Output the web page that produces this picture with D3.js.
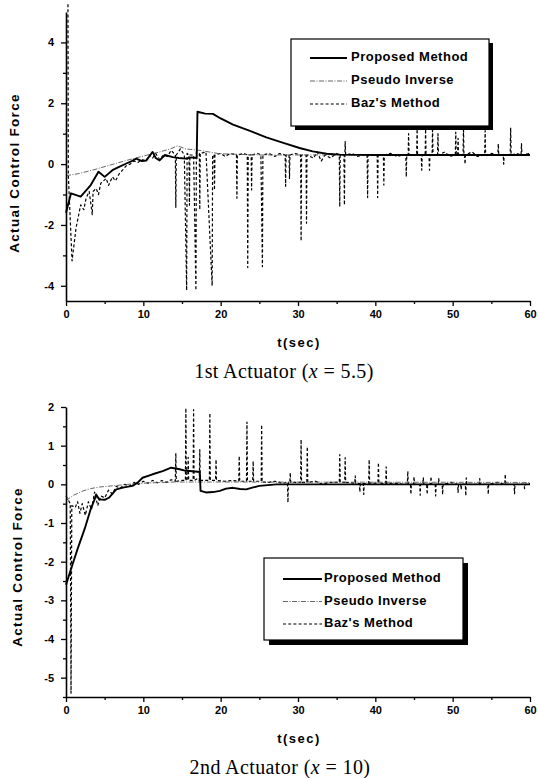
<!DOCTYPE html>
<html>
<head>
<meta charset="utf-8">
<script src="https://cdn.jsdelivr.net/npm/d3@7"></script>
<style>
    body { margin: 0; background: #fff; }
    svg { display: block; }
</style>
</head>
<body>
<svg id="chart" width="538" height="778"></svg>
<script>
// ---- data: [t, force] ----
const tMajor = [0, 10, 20, 30, 40, 50, 60]
const tMinor = [5, 15, 25, 35, 45, 55]
const legendNames = ['Proposed Method', 'Pseudo Inverse', "Baz's Method"]

// 1st actuator (x = 5.5)
const proposed1 = [[0, -1.6], [0.65, -0.96], [1.9, -1.07], [3.2, -0.69], [4.2, -0.25], [5.0, -0.42], [6.0, -0.2], [6.8, -0.1],
    [7.8, 0.02], [8.5, 0.1], [9.1, 0.18], [9.8, 0.1], [10.4, 0.12], [10.9, 0.3], [11.2, 0.4], [11.6, 0.2], [12.1, 0.12],
    [12.8, 0.3], [13.8, 0.23], [14.6, 0.2], [15.5, 0.18], [16.2, 0.22], [16.9, 0.2], [17.0, 1.72], [18.0, 1.66], [19.0, 1.65],
    [20.0, 1.5], [21.6, 1.3], [23.7, 1.1], [25.9, 0.88], [28.1, 0.7], [30.2, 0.53], [31.9, 0.42], [33.7, 0.34], [35.4, 0.31],
    [40, 0.3], [60, 0.3]]
const pseudo1 = [[0, -0.38], [1.7, -0.31], [3.4, -0.2], [5.6, -0.04], [7.8, 0.12], [10.4, 0.29], [12.1, 0.4], [13.5, 0.5],
    [14.4, 0.6], [15.5, 0.5], [17.3, 0.45], [19.9, 0.34], [25, 0.3], [60, 0.3]]
const baz1 = [[0.25, 5.6], [0.3, -0.36], [0.78, -3.18], [1.3, -2.1], [1.9, -1.34], [2.3, -1.5], [2.6, -1.12], [3.0, -0.9],
    [3.4, -1.66], [3.5, -0.9], [3.9, -0.8], [4.2, -1.0], [4.5, -0.63], [5.2, -0.47], [5.5, -0.7], [6.0, -0.42], [6.4, -0.55],
    [6.9, -0.31], [7.3, -0.2], [7.8, -0.05], [8.3, 0.0], [8.8, 0.1], [9.3, 0.05], [9.8, 0.15], [10.3, 0.1], [10.8, 0.3],
    [11.2, 0.2], [11.6, 0.35], [12.1, 0.15], [12.6, 0.3], [13.1, 0.25], [13.6, 0.45], [14.14, 0.3], [14.2, -1.42], [14.26, 0.3],
    [14.8, 0.5], [15.3, 0.3], [15.6, -4.15], [15.66, 0.35], [15.9, 0.3], [15.96, -1.35], [16.02, 0.3], [16.5, 0.3],
    [16.8, -4.15], [16.86, 0.4], [17.24, 0.35], [17.3, -1.5], [17.36, 0.35], [18.1, 0.4], [18.9, -4.0], [18.96, 0.3],
    [19.14, 0.3], [19.2, -0.85], [19.26, 0.3], [20.0, 0.35], [20.6, 0.25], [21.2, 0.35], [22.04, 0.3], [22.1, -1.12],
    [22.16, 0.3], [23.0, 0.35], [23.44, 0.3], [23.5, -3.4], [23.56, 0.3], [23.94, 0.3], [24.0, -0.85], [24.06, 0.3],
    [24.8, 0.35], [25.2, 0.3], [25.4, -3.37], [25.46, 0.3], [26.3, 0.35], [27.0, 0.25], [27.6, 0.35], [28.34, 0.3],
    [28.4, -0.73], [28.46, 0.3], [28.84, 0.3], [28.9, -0.47], [28.96, 0.3], [29.6, 0.35], [30.34, 0.3], [30.4, -2.53],
    [30.46, 0.3], [31.04, 0.3], [31.1, -1.94], [31.16, 0.3], [32.0, 0.2], [32.5, 0.4], [33.0, 0.1], [33.5, 0.3], [34.2, 0.2],
    [35.0, 0.35], [35.34, 0.3], [35.4, -1.4], [35.46, 0.3], [35.94, 0.3], [36.0, -1.34], [36.06, 0.3], [36.1, 0.74],
    [36.16, 0.3], [37.0, 0.35], [37.7, 0.25], [38.3, 0.3], [38.94, 0.3], [39.0, -1.1], [39.06, 0.3], [40.24, 0.3],
    [40.3, -1.1], [40.36, 0.3], [41.04, 0.3], [41.1, -0.69], [41.16, 0.3], [42.0, 0.35], [42.8, 0.25], [43.5, 0.3],
    [43.94, 0.3], [44.0, -0.42], [44.06, 0.3], [44.24, 0.3], [44.3, 1.0], [44.36, 0.3], [45.34, 0.3], [45.4, 1.15],
    [45.46, 0.3], [45.94, 0.3], [46.0, -0.2], [46.06, 0.3], [46.44, 0.3], [46.5, 1.15], [46.56, 0.3], [46.94, 0.3],
    [47.0, -0.2], [47.06, 0.3], [47.34, 0.3], [47.4, 1.2], [47.46, 0.3], [48.04, 0.3], [48.1, 1.0], [48.16, 0.3], [49.0, 0.4],
    [49.6, 0.25], [50.34, 0.3], [50.4, 1.05], [50.46, 0.3], [50.64, 0.3], [50.7, 0.85], [50.76, 0.3], [51.34, 0.3],
    [51.4, 1.2], [51.46, 0.3], [51.54, 0.3], [51.6, 0.0], [51.66, 0.3], [52.5, 0.4], [53.2, 0.25], [54.14, 0.3], [54.2, 1.1],
    [54.26, 0.3], [55.0, 0.35], [55.84, 0.3], [55.9, 0.67], [55.96, 0.3], [56.54, 0.3], [56.6, 0.0], [56.66, 0.3],
    [57.44, 0.3], [57.5, 1.2], [57.56, 0.3], [58.3, 0.35], [58.84, 0.3], [58.9, 0.67], [58.96, 0.3], [60, 0.35]]

// 2nd actuator (x = 10)
const proposed2 = [[0, -2.6], [0.65, -2.19], [1.5, -1.67], [2.4, -1.16], [3.2, -0.64], [3.7, -0.39], [3.9, -0.26], [4.3, -0.39],
    [5.0, -0.4], [5.6, -0.34], [6.5, -0.13], [7.5, -0.08], [8.6, -0.04], [9.3, 0.05], [9.9, 0.17], [11.2, 0.26], [12.5, 0.34],
    [13.6, 0.43], [14.7, 0.39], [15.5, 0.35], [16.4, 0.34], [17.3, 0.32], [17.4, -0.17], [18.1, -0.21], [19.0, -0.2],
    [19.9, -0.17], [20.7, -0.11], [21.6, -0.09], [22.5, -0.12], [23.3, -0.13], [24.2, -0.08], [25.0, -0.04], [27.2, 0.0], [60, 0.0]]
const pseudo2 = [[0, -0.42], [1, -0.28], [2.2, -0.17], [3.2, -0.11], [4.3, -0.07], [6.5, -0.03], [8, 0.0], [10, 0.03],
    [14, 0.06], [20, 0.06], [60, 0.05]]
const baz2 = [[0.0, -0.3], [0.55, -0.5], [0.65, -5.4], [0.75, -0.55], [1.2, -0.6], [1.5, -0.45], [1.8, -0.75], [2.1, -0.5],
    [2.5, -0.8], [2.9, -0.45], [3.3, -0.65], [3.7, -0.2], [4.1, -0.55], [4.5, -0.3], [5.0, -0.35], [5.5, -0.15], [6.0, -0.25],
    [6.5, -0.05], [7.0, -0.1], [7.6, 0.0], [8.2, -0.05], [8.8, 0.05], [9.4, 0.0], [10.0, 0.08], [10.6, 0.03], [11.2, 0.1],
    [11.8, 0.04], [12.4, 0.1], [13.0, 0.05], [13.6, 0.12], [14.14, 0.08], [14.2, 0.81], [14.26, 0.08], [15.0, 0.1],
    [15.44, 0.1], [15.5, 1.97], [15.56, 0.1], [15.74, 0.1], [15.8, 0.7], [15.86, 0.1], [16.44, 0.1], [16.5, 1.93],
    [16.56, 0.1], [17.0, 0.15], [17.24, 0.1], [17.3, 0.9], [17.36, 0.1], [18.0, 0.1], [18.54, 0.1], [18.6, 1.84], [18.66, 0.1],
    [19.34, 0.1], [19.4, 0.64], [19.46, 0.1], [20.5, 0.08], [21.5, 0.1], [22.34, 0.08], [22.4, 0.73], [22.46, 0.08],
    [23.34, 0.08], [23.4, 1.61], [23.46, 0.08], [24.14, 0.08], [24.2, 0.6], [24.26, 0.08], [25.24, 0.08], [25.3, 1.54],
    [25.36, 0.06], [26.2, 0.05], [27.0, 0.08], [28.0, 0.03], [28.64, 0.05], [28.7, -0.47], [28.76, 0.05], [28.94, 0.05],
    [29.0, 0.3], [29.06, 0.05], [30.34, 0.05], [30.4, 1.16], [30.46, 0.05], [31.14, 0.05], [31.2, 0.97], [31.26, 0.05],
    [32.3, 0.08], [33.2, 0.0], [34.0, 0.05], [35.34, 0.05], [35.4, 0.77], [35.46, 0.05], [36.04, 0.05], [36.1, 0.69],
    [36.16, 0.05], [37.34, 0.03], [37.4, 0.22], [37.46, 0.03], [37.94, 0.02], [38.0, -0.2], [38.06, 0.02], [38.44, 0.02],
    [38.5, -0.26], [38.56, 0.02], [39.14, 0.03], [39.2, 0.64], [39.26, 0.03], [40.34, 0.03], [40.4, 0.56], [40.46, 0.03],
    [41.34, 0.02], [41.4, 0.45], [41.46, 0.02], [42.5, 0.03], [43.5, 0.0], [44.14, 0.0], [44.2, 0.34], [44.26, 0.0],
    [44.54, 0.0], [44.6, -0.26], [44.66, 0.0], [44.94, 0.0], [45.0, 0.2], [45.06, 0.0], [45.74, 0.0], [45.8, -0.28],
    [45.86, 0.0], [46.14, 0.0], [46.2, 0.17], [46.26, 0.0], [46.64, 0.0], [46.7, -0.26], [46.76, 0.0], [47.14, 0.0],
    [47.2, 0.2], [47.26, 0.0], [47.74, 0.0], [47.8, -0.3], [47.86, 0.0], [48.14, 0.0], [48.2, 0.15], [48.26, 0.0],
    [48.64, 0.0], [48.7, -0.26], [48.76, 0.0], [49.8, 0.05], [50.64, 0.0], [50.7, -0.21], [50.76, 0.0], [51.04, 0.0],
    [51.1, -0.13], [51.16, 0.0], [51.64, 0.0], [51.7, -0.3], [51.76, 0.17], [51.82, 0.0], [53.44, 0.0], [53.5, 0.15],
    [53.56, 0.0], [54.54, 0.0], [54.6, -0.26], [54.66, 0.0], [55.8, 0.05], [56.74, 0.0], [56.8, 0.26], [56.86, 0.0],
    [57.94, 0.0], [58.0, -0.24], [58.06, 0.0], [59.24, 0.0], [59.3, -0.11], [59.36, 0.0], [60, 0.02]]

const yMajor1 = [-4, -2, 0, 2, 4]
const yMinor1 = [-3, -1, 1, 3]
const yMajor2 = [-5, -4, -3, -2, -1, 0, 1, 2]
const yMinor2 = [-5.5, -4.5, -3.5, -2.5, -1.5, -0.5, 0.5, 1.5]

const styles = [
    { width: 1.9, dash: null, color: '#000' },
    { width: 0.9, dash: '5,1.5,1,1.5', color: '#555' },
    { width: 1.2, dash: '3,2.2', color: '#000' }
]

const svg = d3.select('#chart')
const sans = '"Liberation Sans", Arial, sans-serif'
const serif = '"Liberation Serif", "Times New Roman", serif'

function drawPanel(p, idx) {
    let x = d3.scaleLinear().domain([0, 60]).range([66, 530])
    let y = d3.scaleLinear().domain(p.yDomain).range(p.yRange)
    let bottom = p.yRange[0]

    let clipId = 'clip' + idx
    svg.append('clipPath').attr('id', clipId)
        .append('rect')
        .attr('x', 60).attr('y', p.clipTop)
        .attr('width', 478).attr('height', bottom - p.clipTop + 4)

    let line = d3.line().x(d => x(d[0])).y(d => y(d[1]))
    let plot = svg.append('g').attr('clip-path', `url(#${clipId})`)

    // draw Baz first, then pseudo, then proposed on top
    let order = [2, 1, 0]
    order.forEach(i => {
        plot.append('path')
            .datum(p.series[i])
            .attr('d', line)
            .style('fill', 'none')
            .style('stroke', styles[i].color)
            .style('stroke-width', styles[i].width)
            .style('stroke-dasharray', styles[i].dash)
            .style('stroke-linejoin', 'round')
    })

    // axes
    let xAxis = svg.append('g').attr('transform', `translate(0,${bottom})`)
        .call(d3.axisBottom(x).tickValues(tMajor).tickSize(5).tickPadding(4).tickSizeOuter(0))
    svg.append('g').attr('transform', `translate(0,${bottom})`)
        .call(d3.axisBottom(x).tickValues(tMinor).tickSize(3).tickFormat('').tickSizeOuter(0))
        .select('.domain').remove()

    let yAxis = svg.append('g').attr('transform', `translate(66,0)`)
        .call(d3.axisLeft(y).tickValues(p.yMajor).tickSize(5).tickPadding(7).tickSizeOuter(0)
            .tickFormat(d => d < 0 ? '-' + Math.abs(d) : d))
    svg.append('g').attr('transform', `translate(66,0)`)
        .call(d3.axisLeft(y).tickValues(p.yMinor).tickSize(3).tickFormat('').tickSizeOuter(0))
        .select('.domain').remove()

    svg.selectAll('.domain').style('stroke-width', 1.6)
    svg.selectAll('.tick line').style('stroke-width', 1.3)
    ;[xAxis, yAxis].forEach(a => a.selectAll('text')
        .style('font-family', sans)
        .style('font-weight', 'bold')
        .style('font-size', '11px'))

    // axis titles
    svg.append('text')
        .attr('x', 299).attr('y', p.tTitleY)
        .attr('text-anchor', 'middle')
        .style('font-family', sans).style('font-weight', 'bold')
        .style('font-size', '13px').style('letter-spacing', '1.5px')
        .text('t(sec)')

    svg.append('text')
        .attr('transform', `translate(${p.yTitleX},${p.yTitleY}) rotate(-90)`)
        .attr('text-anchor', 'middle')
        .style('font-family', sans).style('font-weight', 'bold')
        .style('font-size', '13.5px').style('letter-spacing', '1.3px')
        .text('Actual Control Force')

    // caption
    let cap = svg.append('text')
        .attr('x', p.capX).attr('y', p.capY)
        .attr('text-anchor', 'middle')
        .style('font-family', serif)
        .style('font-size', '20px').style('letter-spacing', '0.4px')
    cap.append('tspan').text(p.capName + ' (')
    cap.append('tspan').style('font-style', 'italic').text('x')
    cap.append('tspan').text(' = ' + p.capVal + ')')

    // legend box with heavy drop shadow
    let L = p.legend
    svg.append('rect')
        .attr('x', L.x + L.sh).attr('y', L.y + L.sh)
        .attr('width', L.w).attr('height', L.h)
        .style('fill', '#000')
    svg.append('rect')
        .attr('x', L.x).attr('y', L.y)
        .attr('width', L.w).attr('height', L.h)
        .style('fill', '#fff').style('stroke', '#000').style('stroke-width', 1.2)

    legendNames.forEach((name, i) => {
        let by = L.base + i * L.gap
        svg.append('line')
            .attr('x1', L.lx1).attr('x2', L.lx2)
            .attr('y1', by - 3).attr('y2', by - 3)
            .style('stroke', styles[i].color)
            .style('stroke-width', styles[i].width)
            .style('stroke-dasharray', styles[i].dash)
        svg.append('text')
            .attr('x', L.tx).attr('y', by)
            .style('font-family', sans).style('font-weight', 'bold')
            .style('font-size', '13px').style('letter-spacing', '0.5px')
            .text(name)
    })
}

drawPanel({
    yDomain: [-4.5, 5], yRange: [301, 12], clipTop: 4,
    yMajor: yMajor1, yMinor: yMinor1,
    series: [proposed1, pseudo1, baz1],
    tTitleY: 346.5, yTitleX: 18.5, yTitleY: 173,
    capX: 284, capY: 377.5, capName: '1st Actuator', capVal: '5.5',
    legend: { x: 291, y: 39, w: 198, h: 87, sh: 4, base: 61, gap: 23, lx1: 310, lx2: 347, tx: 351 }
}, 1)

drawPanel({
    yDomain: [-5.5, 2], yRange: [697, 407], clipTop: 405,
    yMajor: yMajor2, yMinor: yMinor2,
    series: [proposed2, pseudo2, baz2],
    tTitleY: 743, yTitleX: 22, yTitleY: 567,
    capX: 280, capY: 774, capName: '2nd Actuator', capVal: '10',
    legend: { x: 264, y: 558, w: 199, h: 82, sh: 5, base: 582, gap: 22.5, lx1: 283, lx2: 322, tx: 324 }
}, 2)
</script>
</body>
</html>
